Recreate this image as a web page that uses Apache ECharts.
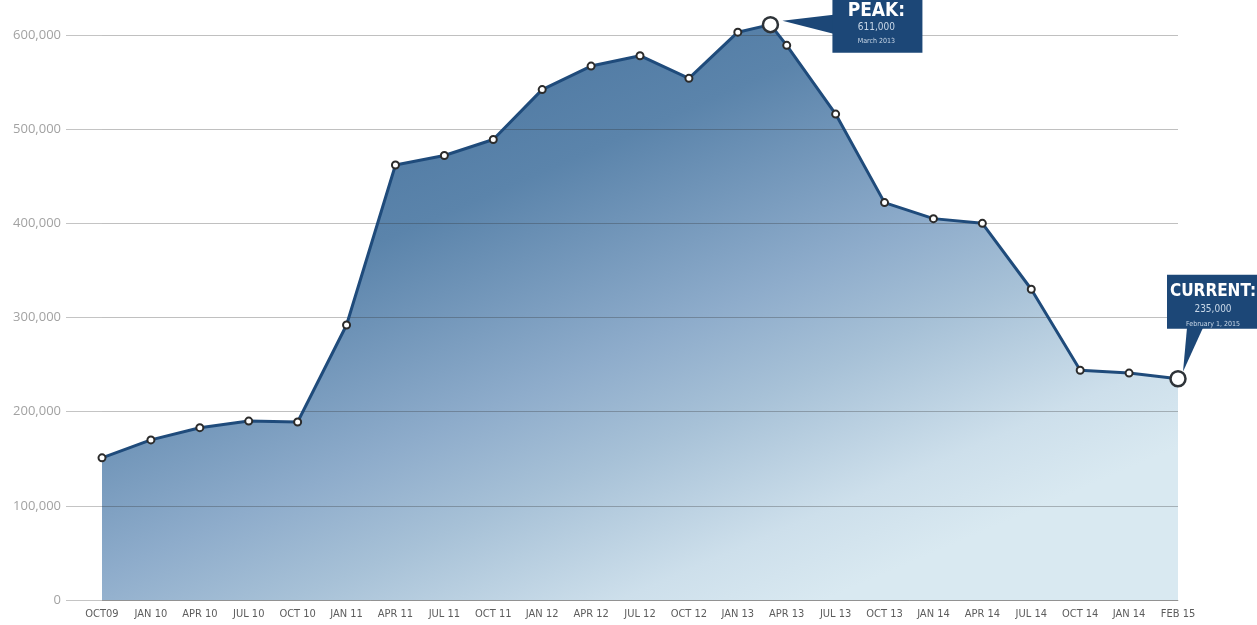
<!DOCTYPE html>
<html>
<head>
<meta charset="utf-8">
<script src="https://cdn.jsdelivr.net/npm/echarts@6/dist/echarts.min.js"></script>
<style>
  html, body { margin: 0; padding: 0; background: #ffffff; }
  #chart { width: 1257px; height: 625px; }
</style>
</head>
<body>
<div id="chart"></div>
<script>
// Quarterly tick labels along the bottom axis
const tickLabels = [
  'OCT09', 'JAN 10', 'APR 10', 'JUL 10', 'OCT 10', 'JAN 11', 'APR 11', 'JUL 11',
  'OCT 11', 'JAN 12', 'APR 12', 'JUL 12', 'OCT 12', 'JAN 13', 'APR 13', 'JUL 13',
  'OCT 13', 'JAN 14', 'APR 14', 'JUL 14', 'OCT 14', 'JAN 14', 'FEB 15'
];

// One value per tick label
const quarterlyValues = [
  151000, 170000, 183000, 190000, 189000, 292000, 462000, 472000,
  489000, 542000, 567000, 578000, 554000, 603000, 589000, 516000,
  422000, 405000, 400000, 330000, 244000, 241000, 235000
];

// The March 2013 peak sits two months past the JAN 13 tick
const peakPosition = 13 + 2 / 3;
const peakValue = 611000;

// Callout texts: peak and latest figure
const calloutTitles = ['PEAK:', 'CURRENT:'];
const calloutValues = ['611,000', '235,000'];
const calloutDates = ['March 2013', 'February 1, 2015'];

// Horizontal reference lines
const yTicks = [0, 100000, 200000, 300000, 400000, 500000, 600000];

const condensed = '"DejaVu Sans Condensed", "Liberation Sans Narrow", "Roboto Condensed", sans-serif';

const lastIndex = quarterlyValues.length - 1;
const points = quarterlyValues.map((v, i) => [i, v]);
points.splice(14, 0, [peakPosition, peakValue]);

const lineData = points.map((p, i) => {
  const highlighted = (p[0] === peakPosition) || (i === points.length - 1);
  return highlighted
    ? { value: p, symbolSize: 15, itemStyle: { borderWidth: 2.5, borderColor: '#2e3338' } }
    : p;
});

const calloutData = [
  [peakPosition, peakValue, 0],
  [lastIndex, quarterlyValues[lastIndex], 1]
];

// Box / pointer geometry for each callout, relative to its point
const calloutShapes = [
  {
    box: [62, -62, 90, 90],
    pointer: [[12, -4], [63, -10], [63, 9]],
    textX: 106, textY: [-14, 3, 17], titleSize: 19
  },
  {
    box: [-11, -104, 95, 54],
    pointer: [[5, -7], [9, -51], [25, -51]],
    textX: 35, textY: [-87, -69, -55], titleSize: 17
  }
];

function fmtThousands(v) {
  return String(v).replace(/\B(?=(\d{3})+(?!\d))/g, ',');
}

function renderCallout(params, api) {
  const k = api.value(2);
  const pt = api.coord([api.value(0), api.value(1)]);
  const s = calloutShapes[k];
  const navy = '#1c4777';
  const textEl = (text, font, fill, y) => ({
    type: 'text',
    style: {
      text: text, x: pt[0] + s.textX, y: pt[1] + y, font: font, fill: fill,
      align: 'center', verticalAlign: 'middle',
      textAlign: 'center', textVerticalAlign: 'middle'
    }
  });
  return {
    type: 'group',
    children: [
      {
        type: 'polygon',
        shape: { points: s.pointer.map(o => [pt[0] + o[0], pt[1] + o[1]]) },
        style: { fill: navy }
      },
      {
        type: 'rect',
        shape: { x: pt[0] + s.box[0], y: pt[1] + s.box[1], width: s.box[2], height: s.box[3] },
        style: { fill: navy }
      },
      textEl(calloutTitles[k], 'bold ' + s.titleSize + 'px ' + condensed, '#ffffff', s.textY[0]),
      textEl(calloutValues[k], '10px ' + condensed, '#c9d8e8', s.textY[1]),
      textEl(calloutDates[k], '7px ' + condensed, '#c9d8e8', s.textY[2])
    ]
  };
}

const chart = echarts.init(document.getElementById('chart'), null, { renderer: 'canvas' });

chart.setOption({
  animation: false,
  backgroundColor: '#ffffff',
  grid: { left: 102, right: 79, top: 35, bottom: 25 },
  xAxis: {
    type: 'value',
    min: 0,
    max: lastIndex,
    interval: 1,
    axisLine: { show: true, lineStyle: { color: '#bdbdbd', width: 1 } },
    axisTick: { show: false },
    splitLine: { show: false },
    axisLabel: {
      margin: 9,
      color: '#5c5c5c',
      fontFamily: condensed,
      fontSize: 11,
      formatter: v => tickLabels[v] !== undefined ? tickLabels[v] : ''
    }
  },
  yAxis: {
    type: 'value',
    min: 0,
    max: 600000,
    interval: 100000,
    axisLine: { show: false },
    axisTick: { show: true, length: 36, lineStyle: { color: '#c4c4c4', width: 1 } },
    splitLine: { show: false },
    axisLabel: {
      margin: 41,
      color: '#a2a2a2',
      fontFamily: '"Open Sans", sans-serif',
      fontSize: 13,
      formatter: v => fmtThousands(v)
    }
  },
  series: [
    {
      name: 'area',
      type: 'line',
      data: points,
      clip: false,
      symbol: 'none',
      silent: true,
      z: 2,
      lineStyle: { width: 0 },
      areaStyle: {
        opacity: 1,
        color: new echarts.graphic.LinearGradient(0, 0, 0.3, 1.3, [
          { offset: 0, color: '#3d6996' },
          { offset: 0.38, color: '#5b84ab' },
          { offset: 0.62, color: '#8eaccb' },
          { offset: 0.74, color: '#a7c1d7' },
          { offset: 0.9, color: '#cddfeb' },
          { offset: 1, color: '#d9e9f1' }
        ])
      },
      markLine: {
        silent: true,
        symbol: ['none', 'none'],
        z: 5,
        label: { show: false },
        lineStyle: { color: 'rgba(45,45,45,0.3)', width: 1.2, type: 'solid' },
        data: yTicks.map(v => ({ yAxis: v }))
      }
    },
    {
      name: 'values',
      type: 'line',
      data: lineData,
      clip: false,
      z: 6,
      symbol: 'circle',
      symbolSize: 7,
      showSymbol: true,
      showAllSymbol: true,
      lineStyle: { color: '#1f4b7b', width: 3 },
      itemStyle: { color: '#ffffff', borderColor: '#2b2b2b', borderWidth: 2 }
    },
    {
      name: 'callouts',
      type: 'custom',
      coordinateSystem: 'cartesian2d',
      z: 10,
      clip: false,
      silent: true,
      data: calloutData,
      renderItem: renderCallout
    }
  ]
});
</script>
</body>
</html>
